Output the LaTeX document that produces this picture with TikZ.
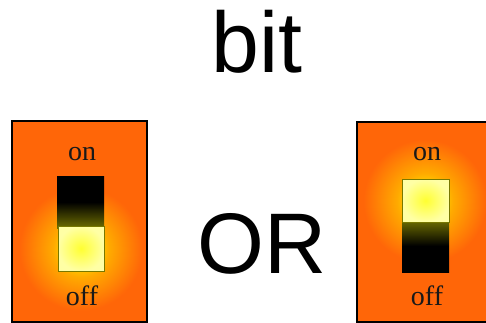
\documentclass[tikz,border=0pt]{standalone}
\usepackage{fontspec}
\setmainfont{Liberation Serif}
\setsansfont{Liberation Sans}
\usepackage{tikz}
\usetikzlibrary{positioning,calc}
\definecolor{panelorange}{RGB}{255,102,8}
\definecolor{glowamber}{RGB}{255,170,0}
\definecolor{glowyellow}{RGB}{255,236,0}
\definecolor{knobpale}{RGB}{255,255,165}
\definecolor{knobedge}{RGB}{120,120,0}
\definecolor{slotolive}{RGB}{110,110,0}
% the path fills 25bp..75bp of a shading
\pgfdeclareradialshading{panelglow}{\pgfpoint{0bp}{0bp}}{color(0bp)=(yellow); color(3bp)=(glowyellow); color(10bp)=(glowamber); color(22bp)=(panelorange); color(50bp)=(panelorange)}
% 0bp is the bottom of the slot
\pgfdeclareverticalshading{slottop}{100bp}{color(0bp)=(black); color(50bp)=(black); color(75bp)=(slotolive); color(100bp)=(slotolive)}
\pgfdeclareverticalshading{slotbottom}{100bp}{color(0bp)=(slotolive); color(25bp)=(slotolive); color(50bp)=(black); color(100bp)=(black)}

\begin{document}
\begin{tikzpicture}[x=1pt,y=-1pt]
  \tikzstyle{bigword}=[font=\sffamily\fontsize{86}{90}\selectfont,anchor=base,inner sep=0pt]
  \tikzstyle{label}=[font=\rmfamily\fontsize{28}{30}\selectfont,anchor=base,inner sep=0pt,text=black!90]
  \tikzstyle{panel}=[draw=black,line width=1.5pt]
  \tikzstyle{knob}=[draw=knobedge,line width=1pt,inner color=yellow!70!knobpale,outer color=knobpale]
  \useasboundingbox (0,0) rectangle (486,323);

  \node[bigword] (title) at (257,73) {bit};
  \node[bigword] (or) at (262,273) {OR};

  % left switch: off
  \begin{scope}
    \clip (12,121) rectangle (147,322);
    \fill[panelorange] (12,121) rectangle (147,322);
    \shade[shading=panelglow] (81,249) circle (70);
  \end{scope}
  \draw[panel] (12,121) rectangle (147,322);
  \shade[shading=slotbottom] (57,176) rectangle (104,228);
  \draw[knob] (58,226) rectangle (104,271);
  \node[label] (onL) at (82,160) {on};
  \node[label] (offL) at (82,305) {off};

  % right switch: on
  \begin{scope}
    \clip (357,122) rectangle (486,322);
    \fill[panelorange] (357,122) rectangle (486,322);
    \shade[shading=panelglow] (425,201) circle (70);
  \end{scope}
  \draw[panel] (357,122) rectangle (492,322);
  \shade[shading=slottop] (402,220) rectangle (449,272);
  \draw[knob] (402,179) rectangle (449,222);
  \node[label] (onR) at (427,160) {on};
  \node[label] (offR) at (427,305) {off};
\end{tikzpicture}
\end{document}
